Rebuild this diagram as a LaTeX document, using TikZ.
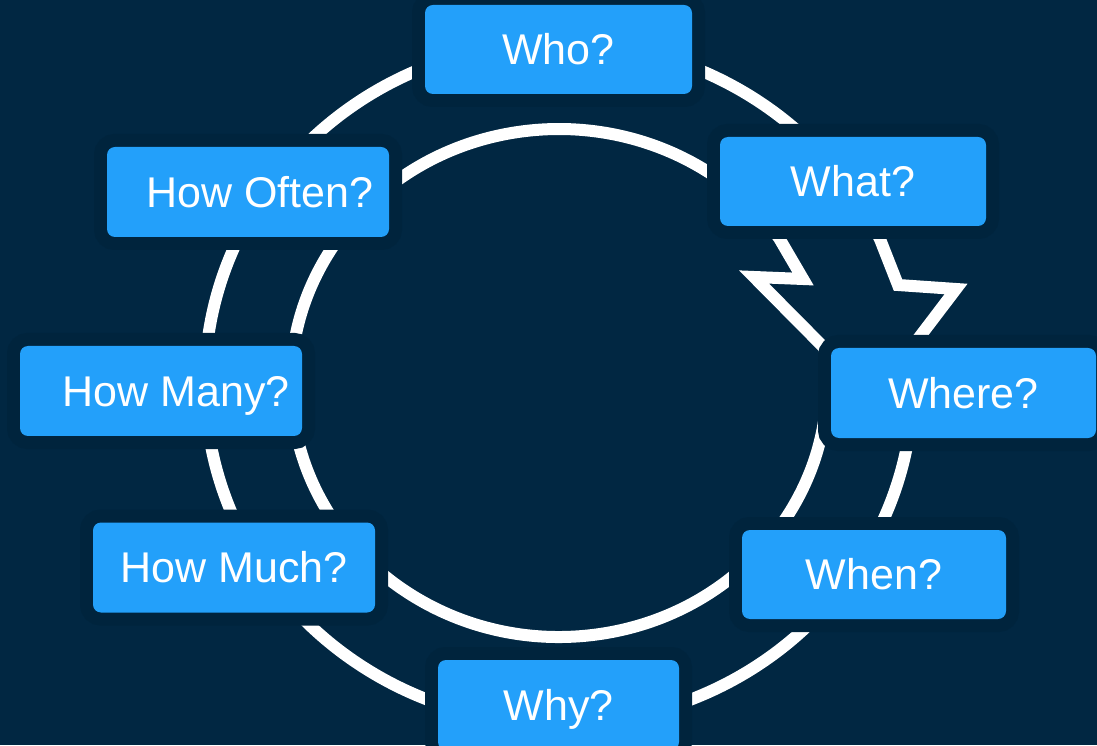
\documentclass[tikz,border=0pt]{standalone}
\usepackage{fontspec}
\setmainfont{Liberation Sans}
\definecolor{bg}{RGB}{1,39,66}
\definecolor{halo}{RGB}{0,36,61}
\definecolor{qblue}{RGB}{35,160,250}
\begin{document}
\begin{tikzpicture}[x=1pt,y=1pt,
  ring/.style={draw=white, line width=12pt, line join=miter, miter limit=10},
  qbox/.style={rectangle, rounded corners=8pt, fill=qblue, inner sep=0pt,
    preaction={draw=halo, line width=26pt}},
  qtext/.style={text=white, inner sep=0pt, font=\fontsize{43}{50}\selectfont,
    text height=30.8pt, text depth=0pt}]

% canvas
\fill[bg] (0,0) rectangle (1097,745);
\useasboundingbox (0,0) rectangle (1097,745);

% common centre of the two rings
\coordinate (c) at (559,362);

% inner ring, broken by a zig-zag on the upper right
\draw[ring] ([shift={(7.9:268 and 254)}]c)
  arc[x radius=268, y radius=254, start angle=7.9, end angle=-325.2]
  -- (803,466) -- (754,468) -- cycle;

% outer ring, broken by a zig-zag on the upper right
\draw[ring] ([shift={(5.89:354 and 341)}]c)
  arc[x radius=354, y radius=341, start angle=5.89, end angle=-335.2]
  -- (898,460) -- (956,456) -- cycle;

% question boxes
\node[qbox, minimum width=267pt, minimum height=89pt] (who)   at (558.5,695.5) {};
\node[qbox, minimum width=266pt, minimum height=89pt] (what)  at (853,563.5) {};
\node[qbox, minimum width=282pt, minimum height=90pt] (often) at (248,553) {};
\node[qbox, minimum width=282pt, minimum height=90pt] (many)  at (161,354) {};
\node[qbox, minimum width=265pt, minimum height=90pt] (where) at (963.5,352) {};
\node[qbox, minimum width=282pt, minimum height=90pt] (much)  at (234,177.5) {};
\node[qbox, minimum width=264pt, minimum height=89pt] (when)  at (874,170.5) {};
\node[qbox, minimum width=241pt, minimum height=90pt] (why)   at (558.5,40) {};

% labels
\node[qtext] (who-t)   at (who)   {Who?};
\node[qtext] (what-t)  at (what)  {What?};
\node[qtext, xshift=12pt] (often-t) at (often) {How Often?};
\node[qtext, xshift=15pt] (many-t)  at (many)  {How Many?};
\node[qtext] (where-t) at (where) {Where?};
\node[qtext] (much-t)  at (much)  {How Much?};
\node[qtext] (when-t)  at (when)  {When?};
\node[qtext] (why-t)   at (why)   {Why?};
\end{tikzpicture}
\end{document}
